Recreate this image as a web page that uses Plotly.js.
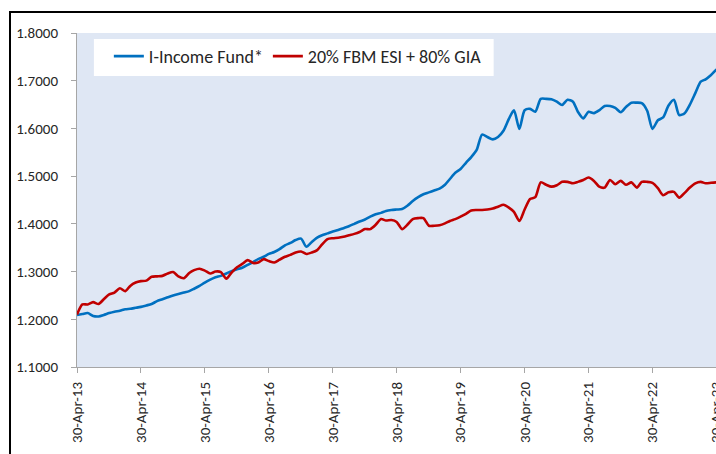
<!DOCTYPE html>
<html>
<head>
<meta charset="utf-8">
<script src="https://cdn.plot.ly/plotly-3.0.1.min.js"></script>
<style>
  html, body { margin: 0; padding: 0; overflow: hidden; background: #fff; width: 716px; height: 454px; }
  #wrap { position: relative; width: 716px; height: 454px; overflow: hidden; }
  #chart { position: absolute; left: 0; top: 0; width: 727px; height: 454px; }
  #frame { position: absolute; left: 9px; top: 11px; width: 800px; height: 600px; border: 2px solid #000; pointer-events: none; }
</style>
</head>
<body>
<div id="wrap">
  <div id="chart"></div>
  <div id="frame"></div>
</div>
<script>
// Series names
const seriesNames = ["I-Income Fund*", "20% FBM ESI + 80% GIA"];

// Monthly values, starting 30-Apr-13 (month-end)
const incomeFund = [
  1.209, 1.211, 1.213, 1.207, 1.206, 1.209, 1.213, 1.216, 1.218, 1.221,
  1.222, 1.224, 1.226, 1.229, 1.232, 1.238, 1.242, 1.246, 1.250, 1.253,
  1.256, 1.259, 1.264, 1.270, 1.277, 1.283, 1.288, 1.291, 1.296, 1.301,
  1.305, 1.308, 1.314, 1.320, 1.326, 1.331, 1.337, 1.341, 1.347, 1.355,
  1.360, 1.366, 1.369, 1.352, 1.362, 1.371, 1.376, 1.380, 1.384, 1.387,
  1.391, 1.395, 1.400, 1.405, 1.409, 1.415, 1.420, 1.423, 1.427, 1.429,
  1.430, 1.431, 1.438, 1.448, 1.456, 1.462, 1.466, 1.470, 1.474, 1.482,
  1.494, 1.507, 1.515, 1.528, 1.540, 1.555, 1.587, 1.582, 1.577, 1.582,
  1.595, 1.620, 1.638, 1.599, 1.638, 1.641, 1.635, 1.662, 1.662, 1.661,
  1.656, 1.649, 1.660, 1.656, 1.635, 1.621, 1.635, 1.632, 1.638, 1.647,
  1.647, 1.643, 1.634, 1.645, 1.654, 1.654, 1.653, 1.637, 1.599, 1.617,
  1.623, 1.648, 1.660, 1.628, 1.632, 1.650, 1.674, 1.698, 1.703, 1.712,
  1.723, 1.730
];

const benchmark = [
  1.210, 1.231, 1.231, 1.236, 1.232, 1.242, 1.252, 1.256, 1.265, 1.259,
  1.270, 1.277, 1.280, 1.281, 1.289, 1.290, 1.291, 1.296, 1.299, 1.290,
  1.286, 1.297, 1.303, 1.306, 1.302, 1.296, 1.300, 1.299, 1.285, 1.298,
  1.309, 1.316, 1.324, 1.318, 1.319, 1.326, 1.322, 1.319, 1.325, 1.331,
  1.335, 1.340, 1.342, 1.337, 1.340, 1.345, 1.357, 1.368, 1.370, 1.371,
  1.373, 1.376, 1.379, 1.383, 1.389, 1.389, 1.398, 1.410, 1.407, 1.408,
  1.404, 1.389, 1.398, 1.410, 1.412, 1.412, 1.396, 1.396, 1.397, 1.401,
  1.406, 1.410, 1.415, 1.421, 1.428, 1.429, 1.429, 1.430, 1.432, 1.436,
  1.440, 1.434, 1.425, 1.406, 1.430, 1.452, 1.456, 1.487, 1.482, 1.478,
  1.481, 1.488, 1.488, 1.485, 1.488, 1.492, 1.497, 1.490, 1.478, 1.476,
  1.492, 1.483, 1.490, 1.482, 1.487, 1.476, 1.488, 1.488, 1.486, 1.475,
  1.460, 1.466, 1.467, 1.455, 1.465, 1.476, 1.485, 1.488, 1.485, 1.486,
  1.487, 1.488
];

// X tick positions and labels
const tickDates = ["2013-04-30","2014-04-30","2015-04-30","2016-04-30","2017-04-30",
                   "2018-04-30","2019-04-30","2020-04-30","2021-04-30","2022-04-30","2023-04-30"];
const tickLabels = ["30-Apr-13","30-Apr-14","30-Apr-15","30-Apr-16","30-Apr-17",
                    "30-Apr-18","30-Apr-19","30-Apr-20","30-Apr-21","30-Apr-22","30-Apr-23"];

// month-end dates starting April 2013
const dates = incomeFund.map((_, i) => {
  const y = 2013 + Math.floor((3 + i) / 12);
  const m = (3 + i) % 12; // 0-based month
  const last = new Date(Date.UTC(y, m + 1, 0)).getUTCDate();
  return y + "-" + String(m + 1).padStart(2, "0") + "-" + String(last).padStart(2, "0");
});

const font = "Carlito, Lato, 'Liberation Sans', sans-serif";

const traces = [
  { x: dates, y: incomeFund, name: seriesNames[0], type: "scatter", mode: "lines",
    line: { color: "#0070C0", width: 2.6, shape: "spline", smoothing: 0.7 } },
  { x: dates, y: benchmark, name: seriesNames[1], type: "scatter", mode: "lines",
    line: { color: "#C00000", width: 2.6, shape: "spline", smoothing: 0.7 } }
];

const layout = {
  width: 727, height: 454,
  margin: { l: 77, r: 0, t: 33, b: 87 },
  paper_bgcolor: "#ffffff",
  plot_bgcolor: "#DFE7F4",
  font: { family: font, size: 15, color: "#262626" },
  showlegend: true,
  legend: {
    orientation: "h", x: 0.049, y: 0.93, xanchor: "left", yanchor: "middle",
    bgcolor: "rgba(0,0,0,0)", borderwidth: 0,
    font: { family: font, size: 18, color: "#262626" },
    itemwidth: 30, traceorder: "normal"
  },
  shapes: [
    { type: "rect", xref: "paper", yref: "paper", x0: 0.026, x1: 0.641, y0: 0.871, y1: 0.982,
      fillcolor: "#ffffff", line: { width: 0 }, layer: "above" }
  ],
  xaxis: {
    type: "date",
    range: ["2013-04-30", "2023-06-30"],
    tickvals: tickDates, ticktext: tickLabels,
    tickangle: -90,
    showgrid: false, zeroline: false,
    showline: true, linecolor: "#A6A6A6", linewidth: 1,
    ticks: "outside", ticklen: 5, tickcolor: "#A6A6A6",
    ticklabelstandoff: 3,
    tickfont: { family: font, size: 15, color: "#262626" }
  },
  yaxis: {
    range: [1.1, 1.8],
    tick0: 1.1, dtick: 0.1, tickformat: ".4f",
    showgrid: false, zeroline: false,
    showline: true, linecolor: "#A6A6A6", linewidth: 1,
    ticks: "outside", ticklen: 5, tickcolor: "#A6A6A6",
    ticklabelstandoff: 10,
    tickfont: { family: font, size: 15, color: "#262626" }
  }
};

Plotly.newPlot("chart", traces, layout, { displayModeBar: false, staticPlot: true });
</script>
</body>
</html>
